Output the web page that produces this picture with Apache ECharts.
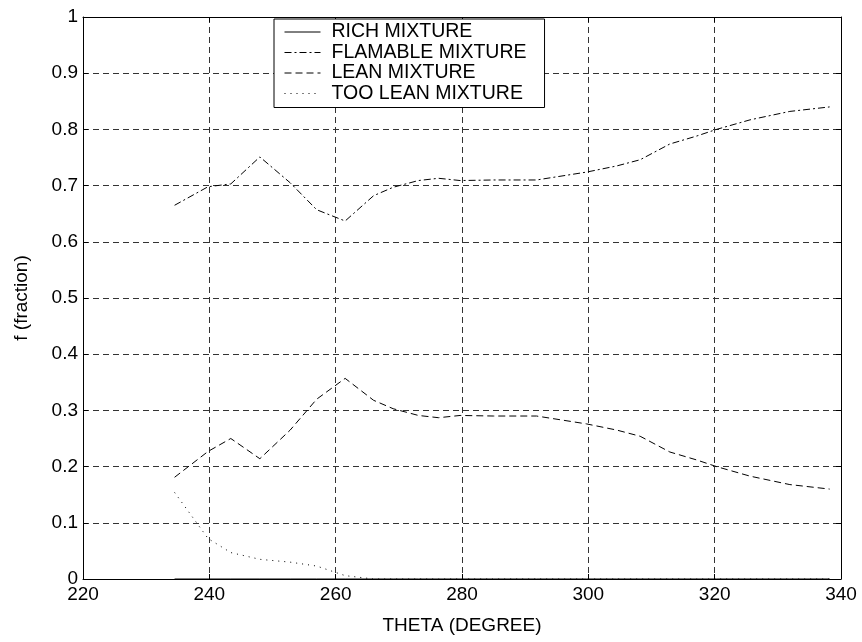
<!DOCTYPE html>
<html>
<head>
<meta charset="utf-8">
<style>
  html, body { margin: 0; padding: 0; background: #fff; }
  #chart { width: 862px; height: 642px; }
</style>
<script src="https://cdn.jsdelivr.net/npm/echarts@6/dist/echarts.min.js"></script>
</head>
<body>
<div id="chart"></div>
<script>
// Crank angle samples (degrees)
const theta = [234.5, 239.8, 243.4, 248.0, 252.8, 257.0, 261.5, 266.0, 269.1, 273.1, 276.3, 279.7,
               285.0, 291.8, 299.7, 304.5, 308.2, 312.9, 317.1, 320.3, 325.6, 331.9, 338.2];

// Mass fraction of each mixture class
const richMixture = [0, 0, 0, 0, 0, 0, 0, 0, 0, 0, 0, 0, 0, 0, 0, 0, 0, 0, 0, 0, 0, 0, 0];
const flamableMixture = [0.665, 0.698, 0.703, 0.751, 0.705, 0.657, 0.637, 0.682, 0.697, 0.709, 0.713, 0.709,
                         0.710, 0.710, 0.724, 0.735, 0.746, 0.774, 0.788, 0.800, 0.817, 0.832, 0.840];
const leanMixture = [0.181, 0.227, 0.250, 0.214, 0.265, 0.320, 0.357, 0.318, 0.303, 0.291, 0.287, 0.291,
                     0.290, 0.290, 0.276, 0.265, 0.254, 0.226, 0.212, 0.200, 0.183, 0.168, 0.160];
const tooLeanMixture = [0.154, 0.072, 0.047, 0.035, 0.030, 0.023, 0.006, 0, 0, 0, 0, 0,
                        0, 0, 0, 0, 0, 0, 0, 0, 0, 0, 0];

const seriesNames = ['RICH MIXTURE', 'FLAMABLE MIXTURE', 'LEAN MIXTURE', 'TOO LEAN MIXTURE'];
const xTicks = { min: 220, max: 340, interval: 20 };
const yTicks = { min: 0, max: 1, interval: 0.1 };

const FONT = 'Liberation Sans, Arial, Helvetica, sans-serif';
const pairs = vals => theta.map((t, i) => [t, vals[i]]);

const gridLine = { show: true, lineStyle: { color: '#333', type: [6, 4], width: 1 } };
const innerTick = { show: true, inside: true, length: 5, lineStyle: { color: '#000', width: 1 } };
const axisLine = { show: true, onZero: false, lineStyle: { color: '#000', width: 1 } };

function line(name, data, dash) {
  return {
    name: name,
    type: 'line',
    data: pairs(data),
    symbol: 'none',
    smooth: false,
    animation: false,
    lineStyle: { color: '#000', width: 1, type: dash },
    itemStyle: { color: '#000' },
    z: 3
  };
}

const chart = echarts.init(document.getElementById('chart'), null, { renderer: 'canvas' });
chart.setOption({
  backgroundColor: '#fff',
  animation: false,
  grid: { left: 83, right: 21, top: 17, bottom: 63, containLabel: false },
  legend: {
    data: seriesNames,
    orient: 'vertical',
    left: 274,
    top: 19,
    itemWidth: 36,
    itemHeight: 10,
    itemGap: 0.5,
    padding: [3, 18, 4, 10],
    backgroundColor: '#fff',
    borderColor: '#000',
    borderWidth: 1,
    itemStyle: { opacity: 0 },
    lineStyle: { width: 1 },
    textStyle: { fontFamily: FONT, fontSize: 19.5, color: '#000', lineHeight: 20, padding: [0, 0, 0, 6] },
    z: 10
  },
  xAxis: [{
    type: 'value',
    min: xTicks.min, max: xTicks.max, interval: xTicks.interval,
    position: 'bottom',
    name: 'THETA (DEGREE)',
    nameLocation: 'middle',
    nameGap: 37,
    nameTextStyle: { fontFamily: FONT, fontSize: 19, color: '#000' },
    axisLine: axisLine,
    axisTick: innerTick,
    axisLabel: { fontFamily: FONT, fontSize: 19, color: '#000', margin: 6 },
    splitLine: gridLine
  }, {
    type: 'value',
    min: xTicks.min, max: xTicks.max, interval: xTicks.interval,
    position: 'top',
    axisLine: axisLine,
    axisTick: innerTick,
    axisLabel: { show: false },
    splitLine: { show: false }
  }],
  yAxis: [{
    type: 'value',
    min: yTicks.min, max: yTicks.max, interval: yTicks.interval,
    position: 'left',
    name: 'f (fraction)',
    nameLocation: 'middle',
    nameGap: 52,
    nameTextStyle: { fontFamily: FONT, fontSize: 19, color: '#000' },
    axisLine: axisLine,
    axisTick: innerTick,
    axisLabel: { fontFamily: FONT, fontSize: 19, color: '#000', margin: 5 },
    splitLine: gridLine
  }, {
    type: 'value',
    min: yTicks.min, max: yTicks.max, interval: yTicks.interval,
    position: 'right',
    axisLine: axisLine,
    axisTick: innerTick,
    axisLabel: { show: false },
    splitLine: { show: false }
  }],
  series: [
    line(seriesNames[0], richMixture, 'solid'),
    line(seriesNames[1], flamableMixture, [7, 3, 2, 3]),
    line(seriesNames[2], leanMixture, [7, 4]),
    line(seriesNames[3], tooLeanMixture, [1, 5])
  ]
});
</script>
</body>
</html>
